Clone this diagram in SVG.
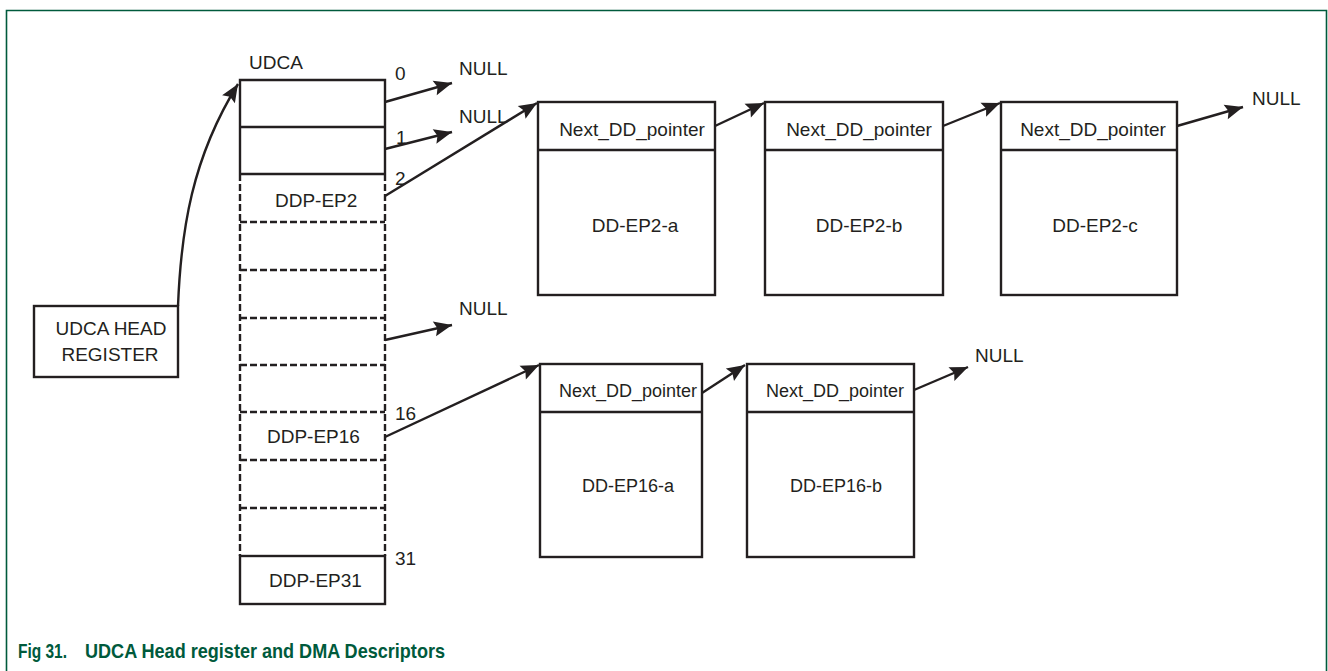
<svg xmlns="http://www.w3.org/2000/svg" width="1328" height="671" viewBox="0 0 1328 671">
<style>
  .box { fill: #ffffff; stroke: #231f20; stroke-width: 2.4; }
  .ln { fill: none; stroke: #231f20; stroke-width: 2.4; }
  .dash { fill: none; stroke: #231f20; stroke-width: 2.4; stroke-dasharray: 7 3; }
  .conn { fill: none; stroke: #231f20; stroke-width: 2.4; marker-end: url(#arrow); }
  .t { font-family: "Liberation Sans", Arial, sans-serif; font-size: 19px; fill: #231f20; }
  .t18 { font-family: "Liberation Sans", Arial, sans-serif; font-size: 18px; fill: #231f20; }
  .mid { text-anchor: middle; }
  .cap { font-family: "Liberation Sans", Arial, sans-serif; font-size: 21px; font-weight: bold; fill: #005a3c; }
</style>
<defs>
  <marker id="arrow" markerUnits="userSpaceOnUse" viewBox="-20 -9 22 18" markerWidth="22" markerHeight="18" refX="0" refY="0" orient="auto">
    <path d="M0,0 L-18,-7.5 L-15,0 L-18,7.5 Z" fill="#231f20"/>
  </marker>
</defs>
<rect width="1328" height="671" fill="#ffffff"/>
<path d="M6.5,672 V10.5 H1326.5 V672" fill="none" stroke="#005a3c" stroke-width="1.6"/>

<g id="udca-head-register">
  <rect class="box" x="34" y="306" width="144" height="71"/>
  <text class="t mid" x="111" y="335">UDCA HEAD</text>
  <text class="t mid" x="110" y="361">REGISTER</text>
</g>

<g id="udca">
  <text class="t" x="249" y="69">UDCA</text>
  <path class="ln" d="M240,174 V80 H385 V174 M240,127 H385 M240,174 H385"/>
  <path class="dash" d="M240,174 V556 M385,174 V556 M240,222 H385 M240,270 H385 M240,318 H385 M240,365 H385 M240,412 H385 M240,460 H385 M240,508 H385"/>
  <rect class="box" x="240" y="556" width="145" height="48"/>
  <text class="t" x="395" y="80">0</text>
  <text class="t" x="396" y="144">1</text>
  <text class="t" x="395" y="185">2</text>
  <text class="t" x="395" y="420">16</text>
  <text class="t" x="395" y="565">31</text>
  <text class="t" x="275" y="207">DDP-EP2</text>
  <text class="t" x="267" y="443">DDP-EP16</text>
  <text class="t" x="269" y="587">DDP-EP31</text>
</g>

<g id="null-labels">
  <text class="t" x="459" y="75">NULL</text>
  <text class="t" x="459" y="123">NULL</text>
  <text class="t" x="459" y="315">NULL</text>
  <text class="t" x="1252" y="105">NULL</text>
  <text class="t" x="975" y="362">NULL</text>
</g>

<g id="dd-ep2-a">
  <rect class="box" x="538" y="102" width="177" height="193"/>
  <line class="ln" x1="538" y1="150" x2="715" y2="150"/>
  <text class="t mid" x="632" y="136">Next_DD_pointer</text>
  <text class="t mid" x="635" y="232">DD-EP2-a</text>
</g>
<g id="dd-ep2-b">
  <rect class="box" x="765" y="102" width="178" height="193"/>
  <line class="ln" x1="765" y1="150" x2="943" y2="150"/>
  <text class="t mid" x="859" y="136">Next_DD_pointer</text>
  <text class="t mid" x="859" y="232">DD-EP2-b</text>
</g>
<g id="dd-ep2-c">
  <rect class="box" x="1001" y="102" width="176" height="193"/>
  <line class="ln" x1="1001" y1="150" x2="1177" y2="150"/>
  <text class="t mid" x="1093" y="136">Next_DD_pointer</text>
  <text class="t mid" x="1095" y="232">DD-EP2-c</text>
</g>
<g id="dd-ep16-a">
  <rect class="box" x="540" y="364" width="162" height="193"/>
  <line class="ln" x1="540" y1="412" x2="702" y2="412"/>
  <text class="t18 mid" x="628" y="397">Next_DD_pointer</text>
  <text class="t18 mid" x="628" y="492">DD-EP16-a</text>
</g>
<g id="dd-ep16-b">
  <rect class="box" x="747" y="364" width="167" height="193"/>
  <line class="ln" x1="747" y1="412" x2="914" y2="412"/>
  <text class="t18 mid" x="835" y="397">Next_DD_pointer</text>
  <text class="t18 mid" x="836" y="492">DD-EP16-b</text>
</g>

<g id="connectors">
  <path class="conn" d="M178,306 C181,230 192,158 238,84"/>
  <line class="conn" x1="385" y1="102" x2="452" y2="83"/>
  <line class="conn" x1="385" y1="149" x2="452" y2="132"/>
  <line class="conn" x1="385" y1="196" x2="537" y2="103"/>
  <line class="conn" x1="385" y1="340" x2="452" y2="325"/>
  <line class="conn" x1="385" y1="437" x2="539" y2="365"/>
  <line class="conn" x1="715" y1="126" x2="764" y2="103"/>
  <line class="conn" x1="943" y1="126" x2="1000" y2="103"/>
  <line class="conn" x1="1177" y1="126" x2="1243" y2="107"/>
  <line class="conn" x1="702" y1="393" x2="745" y2="365"/>
  <line class="conn" x1="914" y1="390" x2="968" y2="367"/>
</g>

<g id="caption">
  <text class="cap" x="18" y="658" textLength="49" lengthAdjust="spacingAndGlyphs">Fig 31.</text>
  <text class="cap" x="85" y="658" textLength="360" lengthAdjust="spacingAndGlyphs">UDCA Head register and DMA Descriptors</text>
</g>
</svg>
